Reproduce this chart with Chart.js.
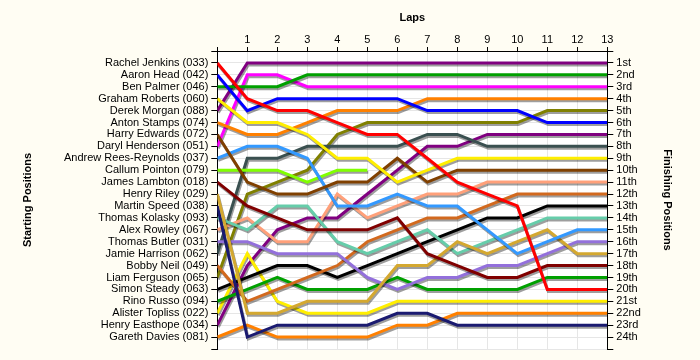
<!DOCTYPE html>
<html>
<head>
<meta charset="utf-8">
<script src="https://cdn.jsdelivr.net/npm/chart.js@4.4.1/dist/chart.umd.min.js"></script>
<style>
  html, body { margin: 0; padding: 0; background: #fffdf3; }
  #wrap { width: 700px; height: 360px; }
</style>
</head>
<body>
<div id="wrap"><canvas id="c" width="700" height="360"></canvas></div>
<script>
// ---- data ----
const laps = [0, 1, 2, 3, 4, 5, 6, 7, 8, 9, 10, 11, 12, 13];
const drivers = [
  "Rachel Jenkins (033)", "Aaron Head (042)", "Ben Palmer (046)", "Graham Roberts (060)",
  "Derek Morgan (088)", "Anton Stamps (074)", "Harry Edwards (072)", "Daryl Henderson (051)",
  "Andrew Rees-Reynolds (037)", "Callum Pointon (079)", "James Lambton (018)", "Henry Riley (029)",
  "Martin Speed (038)", "Thomas Kolasky (093)", "Alex Rowley (067)", "Thomas Butler (031)",
  "Jamie Harrison (062)", "Bobby Neil (049)", "Liam Ferguson (065)", "Simon Steady (063)",
  "Rino Russo (094)", "Alister Topliss (022)", "Henry Easthope (034)", "Gareth Davies (081)"
];
const finishLabels = ["1st","2nd","3rd","4th","5th","6th","7th","8th","9th","10th","11th","12th",
  "13th","14th","15th","16th","17th","18th","19th","20th","21st","22nd","23rd","24th"];

const rachelJenkins    = [1, 4, 5, 5, 6, 7, 7, 9, 11, 12, 13, 20, 20, 20];
const aaronHead        = [2, 5, 4, 4, 4, 4, 4, 5, 5, 5, 5, 6, 6, 6];
const benPalmer        = [3, 3, 3, 2, 2, 2, 2, 2, 2, 2, 2, 2, 2, 2];
const grahamRoberts    = [4, 6, 6, 7, 9, 9, 11, 10, 9, 9, 9, 9, 9, 9];
const derekMorgan      = [5, 1, 1, 1, 1, 1, 1, 1, 1, 1, 1, 1, 1, 1];
const antonStamps      = [6, 7, 7, 6, 5, 5, 5, 4, 4, 4, 4, 4, 4, 4];
const harryEdwards     = [7, 11, 12, 12, 11, 11, 9, 11, 10, 10, 10, 10, 10, 10];
const darylHenderson   = [8, 2, 2, 3, 3, 3, 3, 3, 3, 3, 3, 3, 3, 3];
const andrewReesReynolds = [9, 8, 8, 9, 13, 13, 12, 13, 13, 15, 17, 16, 15, 15];
const callumPointon    = [10, 10, 10, 11, 10, 10, null, null, null, null, null, null, null, null];
const jamesLambton     = [11, 13, 14, 15, 15, 15, 14, 17, 18, 19, 19, 18, 18, 18];
const henryRiley       = [12, 22, 22, 21, 21, 21, 18, 18, 16, 17, 16, 15, 17, 17];
const martinSpeed      = [13, 24, 23, 23, 23, 23, 22, 22, 23, 23, 23, 23, 23, 23];
const thomasKolasky    = [14, 15, 13, 13, 16, 17, 16, 15, 17, 16, 15, 14, 14, 14];
const alexRowley       = [15, 14, 16, 16, 12, 14, 13, 12, 12, 11, 11, 11, 11, 11];
const thomasButler     = [16, 16, 17, 17, 17, 19, 20, 19, 19, 18, 18, 17, 16, 16];
const jamieHarrison    = [17, 9, 9, 8, 8, 8, 8, 7, 7, 8, 8, 8, 8, 8];
const bobbyNeil        = [18, 21, 20, 19, 18, 16, 15, 14, 14, 13, 12, 12, 12, 12];
const liamFerguson     = [19, 12, 11, 10, 7, 6, 6, 6, 6, 6, 6, 5, 5, 5];
const simonSteady      = [20, 19, 18, 18, 19, 18, 17, 16, 15, 14, 14, 13, 13, 13];
const rinoRusso        = [21, 20, 19, 20, 20, 20, 19, 20, 20, 20, 20, 19, 19, 19];
const alisterTopliss   = [22, 17, 21, 22, 22, 22, 21, 21, 21, 21, 21, 21, 21, 21];
const henryEasthope    = [23, 18, 15, 14, 14, 12, 10, 8, 8, 7, 7, 7, 7, 7];
const garethDavies     = [24, 23, 24, 24, 24, 24, 23, 23, 22, 22, 22, 22, 22, 22];

const series = [rachelJenkins, aaronHead, benPalmer, grahamRoberts, derekMorgan, antonStamps,
  harryEdwards, darylHenderson, andrewReesReynolds, callumPointon, jamesLambton, henryRiley,
  martinSpeed, thomasKolasky, alexRowley, thomasButler, jamieHarrison, bobbyNeil, liamFerguson,
  simonSteady, rinoRusso, alisterTopliss, henryEasthope, garethDavies];

// ---- styles ----
const colors = ["#ff0000", "#0000ff", "#00a000", "#ffee00", "#800080", "#ff8000", "#804000", "#ff00ff",
  "#3399ff", "#80ff00", "#800000", "#d4a830", "#1a1a70", "#66cdaa", "#ffa07a", "#9370db",
  "#3a5050", "#d2691e", "#808000", "#000000", "#00a000", "#ffee00", "#800080", "#ff8000"];

const FONT = "'Liberation Sans', Arial, sans-serif";

const bgPlugin = {
  id: 'bg',
  beforeDraw(chart) {
    const c = chart.ctx, a = chart.chartArea;
    c.save();
    c.fillStyle = '#fffdf3';
    c.fillRect(0, 0, chart.width, chart.height);
    c.fillStyle = '#ffffff';
    c.fillRect(a.left, a.top, a.right - a.left, a.bottom - a.top);
    c.restore();
  }
};
const shadowPlugin = {
  id: 'shadow',
  beforeDatasetsDraw(chart) {
    const c = chart.ctx;
    c.save();
    c.shadowColor = 'rgba(0,0,0,0.38)';
    c.shadowOffsetX = 1;
    c.shadowOffsetY = 2;
    c.shadowBlur = 0;
  },
  afterDatasetsDraw(chart) { chart.ctx.restore(); }
};

const datasets = series.map((s, i) => ({
  label: drivers[i],
  data: s.map((v, j) => ({ x: laps[j], y: v })),
  borderColor: colors[i],
  backgroundColor: colors[i],
  borderWidth: 3,
  pointRadius: 0,
  tension: 0,
  spanGaps: false,
  fill: false
}));

new Chart(document.getElementById('c'), {
  type: 'line',
  data: { datasets },
  plugins: [bgPlugin, shadowPlugin],
  options: {
    responsive: false,
    devicePixelRatio: 1,
    animation: false,
    layout: { padding: { left: 0, right: 0, top: 0, bottom: 11 } },
    plugins: { legend: { display: false }, tooltip: { enabled: false } },
    scales: {
      x: {
        type: 'linear',
        position: 'top',
        min: 0, max: 13,
        afterFit(s) { s.height = 51; },
        ticks: {
          stepSize: 1, autoSkip: false, maxRotation: 0, padding: 0,
          color: '#000', font: { family: FONT, size: 11 },
          callback: (v) => v === 0 ? '' : String(v)
        },
        grid: { color: '#e6e6e6', tickColor: '#000', tickLength: 4 },
        border: { color: '#000', width: 1 },
        title: { display: true, text: 'Laps', color: '#000',
          font: { family: FONT, size: 11, weight: 'bold' }, padding: { top: 11, bottom: 0 } }
      },
      y: {
        type: 'linear',
        position: 'left',
        reverse: true,
        min: 0, max: 25,
        afterFit(s) { s.width = 217.3; },
        ticks: {
          stepSize: 1, autoSkip: false, padding: 3,
          color: '#000', font: { family: FONT, size: 11 },
          callback: (v) => (v >= 1 && v <= drivers.length) ? drivers[v - 1] : ''
        },
        grid: { color: '#e6e6e6', tickColor: '#000', tickLength: 6 },
        border: { color: '#000', width: 1 },
        title: { display: true, text: 'Starting Positions', color: '#000',
          font: { family: FONT, size: 11, weight: 'bold' }, padding: { top: 21, bottom: 0 } }
      },
      y2: {
        type: 'linear',
        position: 'right',
        reverse: true,
        min: 0, max: 25,
        afterFit(s) { s.width = 92.7; },
        ticks: {
          stepSize: 1, autoSkip: false, padding: 3,
          color: '#000', font: { family: FONT, size: 11 },
          callback: (v) => (v >= 1 && v <= finishLabels.length) ? finishLabels[v - 1] : ''
        },
        grid: { drawOnChartArea: false, tickColor: '#000', tickLength: 6 },
        border: { color: '#000', width: 1 },
        title: { display: true, text: 'Finishing Positions', color: '#000',
          font: { family: FONT, size: 11, weight: 'bold' }, padding: { top: 26, bottom: 0 } }
      }
    }
  }
});
</script>
</body>
</html>
